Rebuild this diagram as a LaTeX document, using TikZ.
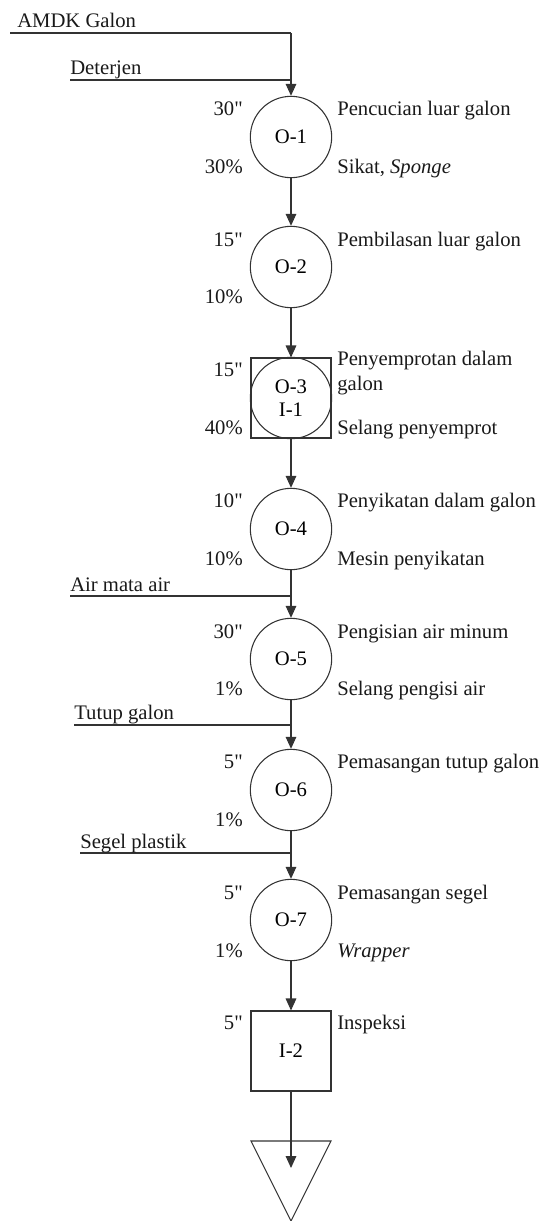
\documentclass[tikz,border=0pt]{standalone}
\usepackage{fontspec}
\setmainfont{Liberation Serif}
\newfontfamily\plainserif{Liberation Serif}
\usetikzlibrary{arrows.meta}

\newcommand{\chartfont}{\fontsize{15.5}{18.75}\selectfont}
\newcommand{\secmark}{{\plainserif\symbol{34}}}

\tikzset{
  proc/.style={circle, draw=black!80, line width=0.8pt, minimum size=61pt, inner sep=0pt, font=\chartfont},
  insp/.style={rectangle, draw=black!80, line width=0.8pt, minimum size=60pt, inner sep=0pt, font=\chartfont},
  flow/.style={draw=black!80, line width=0.8pt, -{Triangle[length=9pt,width=8pt]}},
  feed/.style={draw=black!80, line width=0.8pt},
  lbl/.style={inner sep=0pt, font=\chartfont, text=black!90},
}

\begin{document}
\begin{tikzpicture}[x=0.75pt,y=0.75pt,yscale=-1,xscale=1]
\useasboundingbox (0,0) rectangle (542,1221);

%Shape: Circle O-1 .. O-7
\node[proc] (o1) at (291,137) {O-1};
\node[proc] (o2) at (291,267) {O-2};
\node[insp] (o3) at (291,398) {};
\node[proc, align=center] (o3c) at (291,398) {O-3\\[-2pt]I-1};
\node[proc] (o4) at (291,529) {O-4};
\node[proc] (o5) at (291,659) {O-5};
\node[proc] (o6) at (291,790) {O-6};
\node[proc] (o7) at (291,920) {O-7};
%Shape: Square I-2
\node[insp] (i2) at (291,1051) {I-2};

%Shape: Triangle (storage)
\coordinate (st1) at (251,1141);
\coordinate (st2) at (331,1141);
\coordinate (st3) at (291,1221);
\draw[feed] (st1) -- (st2) -- (st3) -- cycle;
\coordinate (st) at (291,1168);

%Straight Lines: material feeds
\coordinate (amdk) at (10,33);
\coordinate (det) at (70,80);
\coordinate (air) at (70,596);
\coordinate (tutup) at (74,725);
\coordinate (segel) at (80,853);
\draw[feed] (amdk) -- (amdk -| o1);
\draw[flow] (amdk -| o1) -- (o1);
\draw[feed] (det) -- (det -| o1);
\draw[feed] (air) -- (air -| o5);
\draw[feed] (tutup) -- (tutup -| o6);
\draw[feed] (segel) -- (segel -| o7);

%Straight Lines: process flow
\draw[flow] (o1) -- (o2);
\draw[flow] (o2) -- (o3);
\draw[flow] (o3) -- (o4);
\draw[flow] (o4) -- (o5);
\draw[flow] (o5) -- (o6);
\draw[flow] (o6) -- (o7);
\draw[flow] (o7) -- (i2);
\draw[flow] (i2) -- (st);

% Text Node: feeds
\node[lbl, anchor=base west] (amdkt) at (17,27) {AMDK Galon};
\node[lbl, anchor=base west] (dett) at (70,74) {Deterjen};
\node[lbl, anchor=base west] (airt) at (70,591) {Air mata air};
\node[lbl, anchor=base west] (tutupt) at (74,719) {Tutup galon};
\node[lbl, anchor=base west] (segelt) at (80,848) {Segel plastik};

% Text Node: times
\node[lbl, anchor=base east] (w1) at (243,115) {30\secmark};
\node[lbl, anchor=base east] (w2) at (243,246) {15\secmark};
\node[lbl, anchor=base east] (w3) at (243,376) {15\secmark};
\node[lbl, anchor=base east] (w4) at (243,507) {10\secmark};
\node[lbl, anchor=base east] (w5) at (243,638) {30\secmark};
\node[lbl, anchor=base east] (w6) at (243,768) {5\secmark};
\node[lbl, anchor=base east] (w7) at (243,899) {5\secmark};
\node[lbl, anchor=base east] (w8) at (243,1029) {5\secmark};

% Text Node: percentages
\node[lbl, anchor=base east] (p1) at (243,173) {30\%};
\node[lbl, anchor=base east] (p2) at (243,303) {10\%};
\node[lbl, anchor=base east] (p3) at (243,434) {40\%};
\node[lbl, anchor=base east] (p4) at (243,565) {10\%};
\node[lbl, anchor=base east] (p5) at (243,695) {1\%};
\node[lbl, anchor=base east] (p6) at (243,826) {1\%};
\node[lbl, anchor=base east] (p7) at (243,957) {1\%};

% Text Node: activities
\node[lbl, anchor=base west] (a1) at (337,115) {Pencucian luar galon};
\node[lbl, anchor=base west] (a2) at (337,246) {Pembilasan luar galon};
\node[lbl, anchor=base west, align=left] (a3) at (337,390) {Penyemprotan dalam\\galon};
\node[lbl, anchor=base west] (a4) at (337,507) {Penyikatan dalam galon};
\node[lbl, anchor=base west] (a5) at (337,638) {Pengisian air minum};
\node[lbl, anchor=base west] (a6) at (337,768) {Pemasangan tutup galon};
\node[lbl, anchor=base west] (a7) at (337,899) {Pemasangan segel};
\node[lbl, anchor=base west] (a8) at (337,1029) {Inspeksi};

% Text Node: tools
\node[lbl, anchor=base west] (e1) at (337,173) {Sikat, \textit{Sponge}};
\node[lbl, anchor=base west] (e3) at (337,434) {Selang penyemprot};
\node[lbl, anchor=base west] (e4) at (337,565) {Mesin penyikatan};
\node[lbl, anchor=base west] (e5) at (337,695) {Selang pengisi air};
\node[lbl, anchor=base west] (e7) at (337,957) {\textit{Wrapper}};

\end{tikzpicture}
\end{document}
